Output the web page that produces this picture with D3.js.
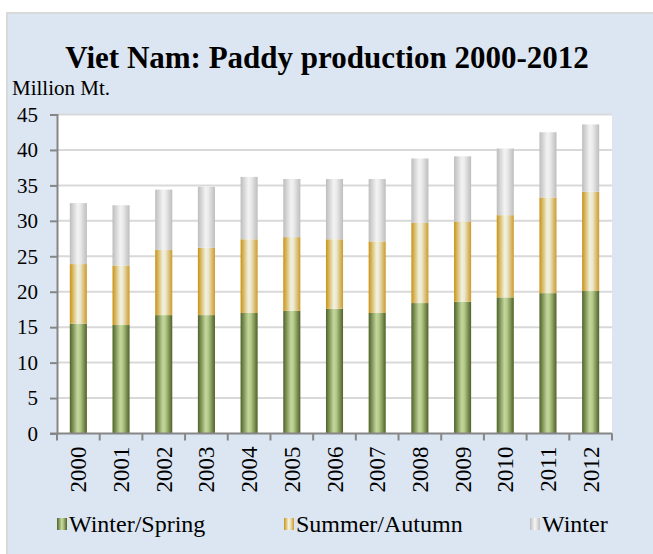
<!DOCTYPE html>
<html>
<head>
<meta charset="utf-8">
<script src="https://cdn.jsdelivr.net/npm/d3@7"></script>
<style>
  body { margin: 0; background: #fff; }
  text { font-family: "Liberation Serif", "Times New Roman", serif; fill: #000; }
</style>
</head>
<body>
<div id="chart"></div>
<script>
var years = ["2000","2001","2002","2003","2004","2005","2006","2007","2008","2009","2010","2011","2012"];
var winterSpring  = [15.5, 15.3, 16.7, 16.7, 17.0, 17.3, 17.6, 17.0, 18.4, 18.6, 19.2, 19.8, 20.1];
var summerAutumn  = [8.4, 8.4, 9.2, 9.5, 10.4, 10.4, 9.8, 10.1, 11.3, 11.3, 11.6, 13.5, 14.0];
var winter        = [8.6, 8.5, 8.5, 8.6, 8.8, 8.2, 8.5, 8.8, 9.1, 9.2, 9.4, 9.2, 9.5];
var seriesNames   = ["Winter/Spring", "Summer/Autumn", "Winter"];
var yTicks        = [0, 5, 10, 15, 20, 25, 30, 35, 40, 45];

(function() {
  var width = 653, height = 554;
  var plotLeft = 57, plotRight = 612, plotTop = 114.5, plotBottom = 433.5;

  var svg = d3.select("#chart").append("svg")
    .attr("width", width)
    .attr("height", height);

  // gradients for the bar fills
  var defs = svg.append("defs");
  var grads = [
    {id: "g0", stops: [["0%","#4f6228"],["45%","#c3d69b"],["60%","#b5cb8a"],["100%","#4f6228"]]},
    {id: "g1", stops: [["0%","#c99214"],["45%","#f0f0dc"],["60%","#ecead2"],["100%","#cc9a2c"]]},
    {id: "g2", stops: [["0%","#bdbdbd"],["45%","#f2f2f2"],["60%","#ececec"],["100%","#bdbdbd"]]}
  ];
  grads.forEach(function(g) {
    var lg = defs.append("linearGradient").attr("id", g.id)
      .attr("x1","0%").attr("x2","100%").attr("y1","0%").attr("y2","0%");
    g.stops.forEach(function(s) {
      lg.append("stop").attr("offset", s[0]).attr("stop-color", s[1]);
    });
  });

  // outer chart background
  svg.append("rect")
    .attr("x", 6).attr("y", 12)
    .attr("width", width - 6).attr("height", height - 12)
    .attr("fill", "#dce6f2");
  svg.append("path")
    .attr("d", "M7,554V13H653")
    .attr("fill", "none")
    .attr("stroke", "#d9d9d9")
    .attr("stroke-width", 2);

  // plot area
  svg.append("rect")
    .attr("x", plotLeft).attr("y", plotTop)
    .attr("width", plotRight - plotLeft).attr("height", plotBottom - plotTop)
    .attr("fill", "#fff");

  var x = d3.scaleBand().domain(years).range([plotLeft, plotRight])
    .paddingInner(0.6).paddingOuter(0.3);
  var y = d3.scaleLinear().domain([0, 45]).range([plotBottom, plotTop]);

  // gridlines
  svg.append("g").selectAll("line")
    .data(yTicks.filter(function(d) { return d > 0; }))
    .enter().append("line")
    .attr("x1", plotLeft).attr("x2", plotRight)
    .attr("y1", function(d) { return y(d); })
    .attr("y2", function(d) { return y(d); })
    .attr("stroke", "#d9d9d9")
    .attr("stroke-width", 2);

  // stacked bars
  var rows = years.map(function(yr, i) {
    return {year: yr, ws: winterSpring[i], sa: summerAutumn[i], w: winter[i]};
  });
  var layers = d3.stack().keys(["ws", "sa", "w"])(rows);

  svg.append("g").selectAll("g")
    .data(layers)
    .enter().append("g")
    .attr("fill", function(d, i) { return "url(#g" + i + ")"; })
    .selectAll("rect")
    .data(function(d) { return d; })
    .enter().append("rect")
    .attr("x", function(d) { return x(d.data.year); })
    .attr("width", x.bandwidth())
    .attr("y", function(d) { return y(d[1]); })
    .attr("height", function(d) { return y(d[0]) - y(d[1]); });

  // y axis
  var yAxis = svg.append("g")
    .attr("transform", "translate(" + plotLeft + ",0)")
    .call(d3.axisLeft(y).tickValues(yTicks).tickSize(7).tickPadding(12));
  yAxis.select(".domain").attr("stroke", "#868686").attr("stroke-width", 2);
  yAxis.selectAll(".tick line").attr("stroke", "#868686").attr("stroke-width", 2);
  yAxis.selectAll(".tick text")
    .style("font-family", "Liberation Serif")
    .style("font-size", "21px")
    .attr("fill", "#000");

  // x axis: ticks sit between categories
  var step = x.step();
  var x0 = x.range()[0];
  var bounds = d3.range(years.length + 1).map(function(i) { return x0 + i * step; });
  svg.append("line")
    .attr("x1", plotLeft - 7).attr("x2", plotRight)
    .attr("y1", plotBottom).attr("y2", plotBottom)
    .attr("stroke", "#868686").attr("stroke-width", 2);
  svg.append("g").selectAll("line")
    .data(bounds)
    .enter().append("line")
    .attr("x1", function(d) { return d; }).attr("x2", function(d) { return d; })
    .attr("y1", plotBottom).attr("y2", plotBottom + 7)
    .attr("stroke", "#868686").attr("stroke-width", 2);

  svg.append("g").selectAll("text")
    .data(years)
    .enter().append("text")
    .attr("transform", function(d) {
      return "translate(" + (x(d) + x.bandwidth() / 2 + 8) + "," + (plotBottom + 13) + ") rotate(-90)";
    })
    .attr("text-anchor", "end")
    .style("font-size", "23px")
    .text(function(d) { return d; });

  // titles
  svg.append("text")
    .attr("x", 327).attr("y", 68)
    .attr("text-anchor", "middle")
    .style("font-size", "31px")
    .style("font-weight", "bold")
    .text("Viet Nam: Paddy production 2000-2012");

  svg.append("text")
    .attr("x", 12).attr("y", 95)
    .style("font-size", "21px")
    .text("Million Mt.");

  // legend
  var legendX = [57, 284, 530];
  var legend = svg.append("g").selectAll("g")
    .data(seriesNames)
    .enter().append("g")
    .attr("transform", function(d, i) { return "translate(" + legendX[i] + ",518)"; });
  legend.append("rect")
    .attr("width", 10).attr("height", 12)
    .attr("fill", function(d, i) { return "url(#g" + i + ")"; });
  legend.append("text")
    .attr("x", 12).attr("y", 14)
    .style("font-size", "24px")
    .text(function(d) { return d; });
})();
</script>
</body>
</html>
